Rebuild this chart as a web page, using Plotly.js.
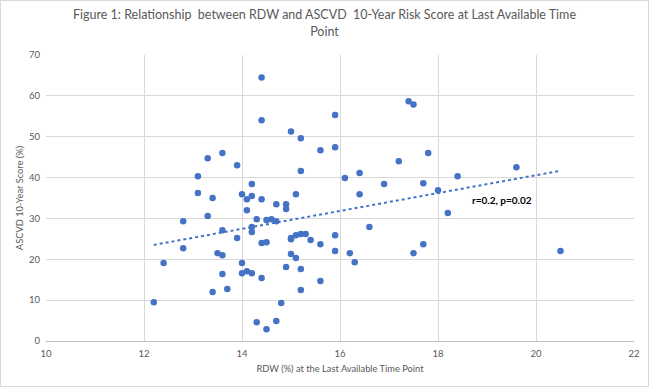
<!DOCTYPE html>
<html>
<head>
<meta charset="utf-8">
<script src="https://cdn.plot.ly/plotly-3.0.1.min.js"></script>
<style>
html,body{margin:0;padding:0;background:#fff;}
#chart{width:647px;height:385px;border:1px solid #d9d9d9;}
</style>
</head>
<body>
<div id="chart"></div>
<script>
const rdw = [12.2,12.4,12.8,12.8,13.1,13.1,13.3,13.3,13.4,13.4,13.5,13.6,13.6,13.6,13.6,13.7,13.9,13.9,14.0,14.0,14.0,
  14.1,14.1,14.1,14.2,14.2,14.2,14.2,14.2,14.3,14.3,14.4,14.4,14.4,14.4,14.4,14.5,14.5,14.5,14.6,14.7,14.7,14.7,14.8,
  14.9,14.9,14.9,15.0,15.0,15.0,15.0,15.1,15.1,15.1,15.2,15.2,15.2,15.2,15.2,15.3,15.4,15.6,15.6,15.6,15.9,15.9,15.9,15.9,
  16.1,16.2,16.3,16.4,16.4,16.6,16.9,17.2,17.4,17.5,17.5,17.7,17.7,17.8,18.0,18.2,18.4,19.6,20.5];
const ascvd = [9.5,19.1,29.3,22.7,40.3,36.2,44.7,30.6,35.0,12.0,21.5,46.0,27.1,21.0,16.4,12.7,43.0,25.2,35.9,19.1,16.6,
  34.7,32.0,17.1,38.4,35.5,27.9,26.7,16.6,29.8,4.6,64.5,54.0,34.7,24.0,15.4,29.6,24.2,2.9,29.8,33.5,29.3,4.9,9.3,
  33.5,32.3,18.1,51.3,25.2,24.9,21.3,35.9,25.9,20.3,49.6,41.6,26.2,17.6,12.5,26.2,24.7,46.7,23.7,14.7,55.3,47.4,25.9,22.0,
  39.9,21.5,19.3,41.1,35.9,27.9,38.4,44.0,58.7,57.9,21.5,38.6,23.7,46.0,36.9,31.3,40.3,42.5,22.0];
const xTicks = [10,12,14,16,18,20,22];
const yTicks = [0,10,20,30,40,50,60,70];
const statLabel = "r=0.2, p=0.02";

// least-squares trendline from the data
const n = rdw.length;
const mx = rdw.reduce((a,b)=>a+b,0)/n;
const my = ascvd.reduce((a,b)=>a+b,0)/n;
let sxy=0, sxx=0;
for(let i=0;i<n;i++){sxy+=(rdw[i]-mx)*(ascvd[i]-my);sxx+=(rdw[i]-mx)**2;}
const slope = sxy/sxx, icpt = my - slope*mx;
const xmin = Math.min(...rdw), xmax = Math.max(...rdw);

const blue = '#4472C4';
const grey = '#595959';
const font = 'Lato, Carlito, Calibri, sans-serif';

const traces = [
  {x: rdw, y: ascvd, type:'scatter', mode:'markers',
   marker:{color:blue, size:6.5}, hoverinfo:'skip'},
  {x:[xmin,xmax], y:[icpt+slope*xmin, icpt+slope*xmax], type:'scatter', mode:'lines',
   line:{color:blue, width:2, dash:'dot'}, hoverinfo:'skip'}
];

const layout = {
  width:647, height:385,
  margin:{l:45, r:14, t:54, b:45},
  paper_bgcolor:'#fff', plot_bgcolor:'#fff',
  showlegend:false,
  font:{family:font, color:grey},
  title:{text:'Figure 1: Relationship  between RDW and ASCVD  10-Year Risk Score at Last Available Time<br>Point',
         font:{family:font, size:12.5, color:grey}, x:0.5, xanchor:'center', yref:'container', y:0.952, yanchor:'top'},
  xaxis:{range:[10,22], tickvals:xTicks, ticktext:xTicks.map(String),
         showgrid:true, gridcolor:'#d9d9d9', gridwidth:1, zeroline:false,
         showline:true, linecolor:'#bfbfbf', linewidth:1, ticks:'', ticklabelstandoff:4,
         tickfont:{family:font, size:9.5, color:grey},
         title:{text:'RDW (%) at the Last Available Time Point', font:{family:font, size:9.3, color:grey}, standoff:7}},
  yaxis:{range:[0,70], tickvals:yTicks, ticktext:yTicks.map(String),
         showgrid:true, gridcolor:'#d9d9d9', gridwidth:1, zeroline:false,
         showline:false, ticks:'', ticklabelstandoff:5,
         tickfont:{family:font, size:9.5, color:grey},
         title:{text:'ASCVD 10-Year Score (%)', font:{family:font, size:9.3, color:grey}, standoff:3}},
  annotations:[{x:19.3, y:34.4, xref:'x', yref:'y', text:'<b>'+statLabel+'</b>', showarrow:false,
                font:{family:font, size:10, color:'#000'}}]
};

Plotly.newPlot('chart', traces, layout, {staticPlot:true, displayModeBar:false});
</script>
</body>
</html>
